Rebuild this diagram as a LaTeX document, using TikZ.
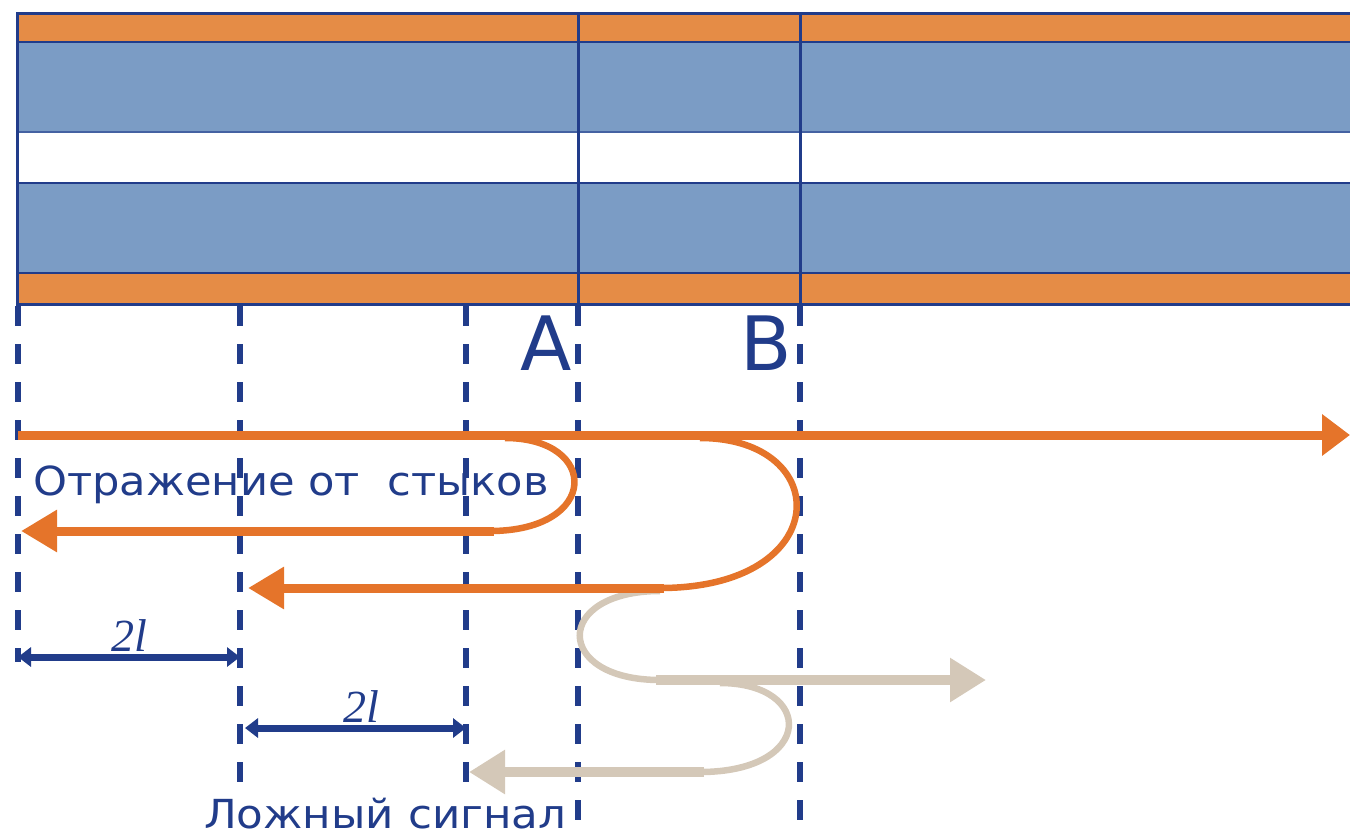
\documentclass[tikz,border=0pt]{standalone}
\usepackage{graphicx}
\usepackage{fontspec}
\setmainfont{DejaVu Sans}
\newfontfamily\dimfont{Liberation Serif}
\usetikzlibrary{arrows.meta}
\definecolor{layerorange}{RGB}{229,140,70}
\definecolor{layerblue}{RGB}{123,156,197}
\definecolor{linkblue}{RGB}{33,60,138}
\definecolor{sigorange}{RGB}{229,116,42}
\definecolor{falsegray}{RGB}{212,200,184}

\begin{document}
\begin{tikzpicture}[x=1pt,y=-1pt,
    joint/.style={linkblue, line width=6pt, dash pattern=on 20pt off 18pt},
    jlabel/.style={linkblue, anchor=base, inner sep=0pt, font=\fontsize{75}{80}\selectfont},
    sigtext/.style={linkblue, anchor=base west, inner sep=0pt, font=\fontsize{40}{44}\selectfont},
    wave/.style={draw=sigorange, line width=9pt},
    turn/.style={line width=6.5pt},
    ghost/.style={draw=falsegray, line width=10pt},
    bighead/.style={-{Triangle[length=36pt,width=40pt]}},
    dimline/.style={linkblue, line width=7pt, {Triangle[length=13pt,width=19pt]}-{Triangle[length=13pt,width=19pt]}},
    dimlabel/.style={linkblue, inner sep=2pt, font=\dimfont\itshape\fontsize{46}{50}\selectfont}]
  \useasboundingbox (0,0) rectangle (1350,839);

  \fill[layerorange] (17,13) rectangle (1350,42);
  \fill[layerblue] (17,42) rectangle (1350,132);
  \fill[layerblue] (17,183) rectangle (1350,273);
  \fill[layerorange] (17,273) rectangle (1350,304);
  \foreach \y in {42,183,273}
    \draw[linkblue, line width=2pt] (17,\y) -- (1350,\y);
  \draw[linkblue!60!layerblue, line width=1.5pt] (17,132) -- (1350,132);
  \draw[linkblue, line width=3pt] (1350,13) -- (17,13) -- (17,304) -- (1350,304);
  \foreach \x in {578,800}
    \draw[linkblue, line width=3pt] (\x,13) -- (\x,304);

  \foreach \x/\e in {18/662,240/783,466/783,578/822,800/822}
    \draw[joint] (\x,306) -- (\x,\e);

  \node[jlabel] (labA) at (546,370) {A};
  \node[jlabel] (labB) at (766,370) {B};

  \coordinate (src) at (18,435);
  \coordinate (out) at (1350,435);
  \coordinate (tipA) at (21,531);
  \coordinate (tipB) at (248,588);
  \coordinate (tipG) at (986,680);
  \coordinate (tipF) at (469,772);

  \draw[ghost, turn] (660,591) .. controls (553,591) and (553,680) .. (660,680);
  \draw[wave, -{Triangle[length=28pt,width=40pt]}] (src) -- (out);
  \draw[wave, turn] (505,438) .. controls (600,438) and (600,531) .. (490,531);
  \draw[wave, bighead] (494,531) -- (tipA);
  \draw[wave, turn] (700,438) .. controls (835,438) and (835,588) .. (660,588);
  \draw[wave, bighead] (664,588) -- (tipB);
  \draw[ghost, -{Triangle[length=36pt,width=42pt]}] (656,680) -- (tipG);
  \draw[ghost, turn] (720,683) .. controls (815,683) and (815,772) .. (700,772);
  \draw[ghost, -{Triangle[length=36pt,width=42pt]}] (704,772) -- (tipF);

  \node[sigtext] (refl) at (33,495) {\scalebox{1.08}[1]{Отражение от\ \ стыков}};
  \node[sigtext] (fake) at (204,828) {\scalebox{1.09}[1]{Ложный сигнал}};

  \coordinate (d1l) at (18,657);
  \coordinate (d1r) at (240,657);
  \coordinate (d2l) at (245,728);
  \coordinate (d2r) at (466,728);
  \draw[dimline] (d1l) -- (d1r) node[dimlabel, midway, above] (len1) {2l};
  \draw[dimline] (d2l) -- (d2r) node[dimlabel, midway, above, xshift=6pt] (len2) {2l};
\end{tikzpicture}
\end{document}
